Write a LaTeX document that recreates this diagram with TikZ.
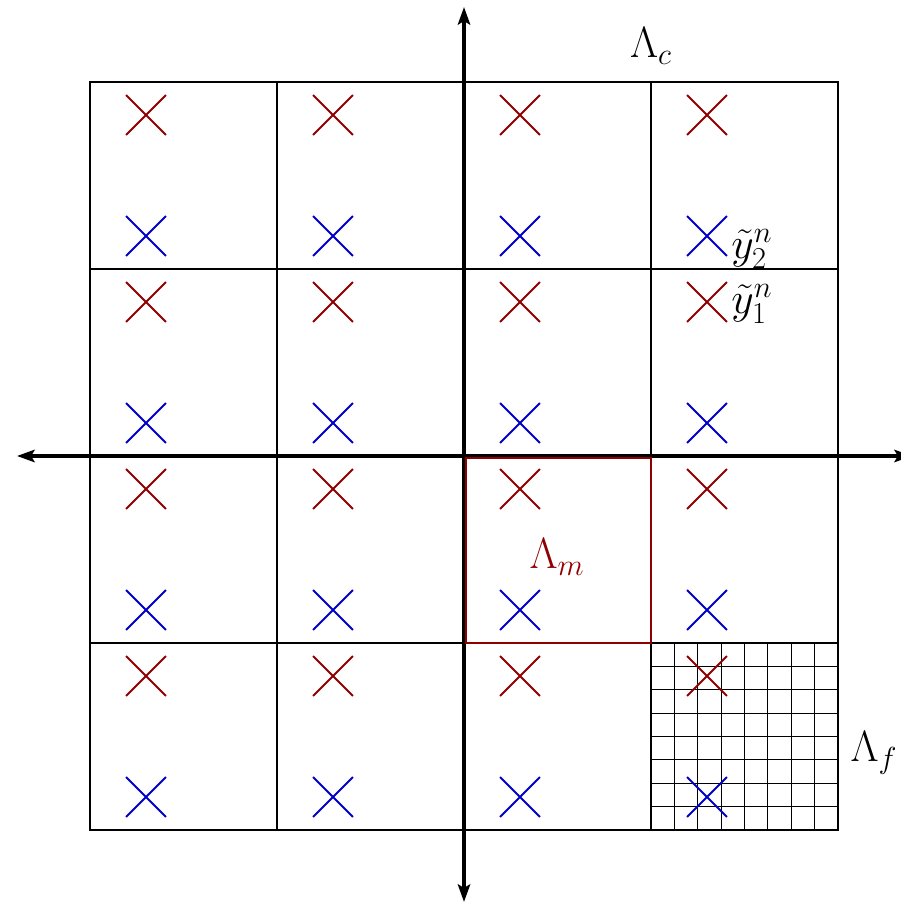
\documentclass[tikz,border=0pt]{standalone}
\usetikzlibrary{shapes.misc,arrows.meta}
\definecolor{xred}{RGB}{145,0,0}
\definecolor{xblue}{RGB}{0,0,200}
\tikzset{
  xmark/.style={cross out,draw,minimum size=0.76cm,inner sep=0pt,line width=1.1pt},
  lbl/.style={font=\fontsize{27}{32}\selectfont,inner sep=0pt},
  axis/.style={line width=2.3pt,{Stealth[length=10pt,width=7pt,inset=2pt]}-{Stealth[length=10pt,width=7pt,inset=2pt]}},
}
\begin{document}
\begin{tikzpicture}[x=0.02cm,y=-0.02cm]
\useasboundingbox (0,0) rectangle (901,905);
% fine grid
\foreach \i in {1,...,7}{
  \draw[line width=0.5pt] ({651+\i*23.375},643) -- ({651+\i*23.375},830);
  \draw[line width=0.5pt] (651,{643+\i*23.375}) -- (838,{643+\i*23.375});
}
% coarse grid
\foreach \v in {277,651}{
  \draw[line width=0.65pt] (\v,82) -- (\v,830);
}
\foreach \h in {269,643}{
  \draw[line width=0.65pt] (90,\h) -- (838,\h);
}
\draw[line width=1.3pt] (90,82) rectangle (838,830);
% crosses
\foreach \cx in {90,277,464,651}{
  \foreach \cy in {82,269,456,643}{
    \node[xmark,xred] at ({\cx+56},{\cy+33}) {};
    \node[xmark,xblue] at ({\cx+56},{\cy+154}) {};
  }
}
% axes
\coordinate (xl) at (17,456);
\coordinate (xr) at (912,456);
\coordinate (yt) at (464,7);
\coordinate (yb) at (464,902);
\draw[axis] (xl) -- (xr);
\draw[axis] (yt) -- (yb);
% red box
\draw[xred,line width=1.2pt] (466,458) rectangle (651,643);
% labels
\node[lbl] (lc) at (651,46) {$\Lambda_c$};
\node[lbl,xred] (lm) at (557,557) {$\Lambda_m$};
\node[lbl] (lf) at (874,753) {$\Lambda_f$};
\node[lbl,anchor=west] (y2) at (731,249) {$\tilde y_2^n$};
\node[lbl,anchor=west] (y1) at (731,304) {$\tilde y_1^n$};
\end{tikzpicture}
\end{document}
